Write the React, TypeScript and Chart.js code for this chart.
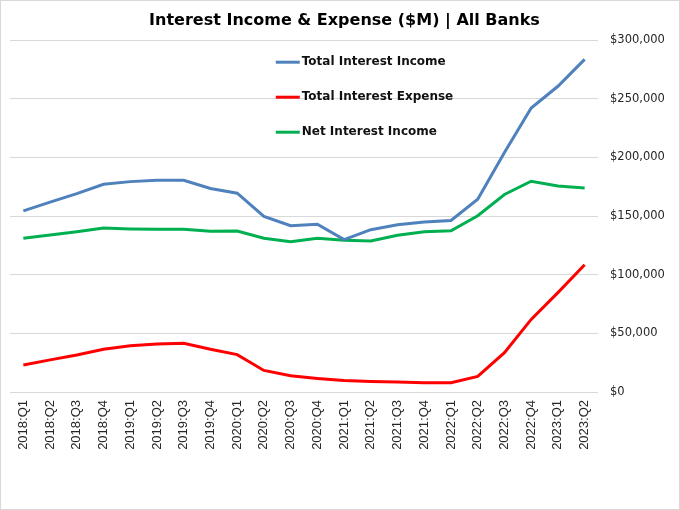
import React, { useEffect, useRef } from "react";
import { Chart, registerables } from "chart.js";

Chart.register(...registerables);

const categories = [
  "2018:Q1", "2018:Q2", "2018:Q3", "2018:Q4",
  "2019:Q1", "2019:Q2", "2019:Q3", "2019:Q4",
  "2020:Q1", "2020:Q2", "2020:Q3", "2020:Q4",
  "2021:Q1", "2021:Q2", "2021:Q3", "2021:Q4",
  "2022:Q1", "2022:Q2", "2022:Q3", "2022:Q4",
  "2023:Q1", "2023:Q2",
];

const totalInterestIncome = [
  154500, 161900, 169200, 177100,
  179400, 180500, 180500, 173500,
  169500, 149700, 141800, 143000,
  129900, 138400, 142600, 144900,
  146300, 164400, 204200, 242100,
  260700, 283600,
];

const totalInterestExpense = [
  23100, 27400, 31600, 36400,
  39500, 40900, 41500, 36400,
  31900, 18400, 13800, 11600,
  9900, 9000, 8500, 7900,
  7900, 13300, 33600, 61900,
  84700, 108500,
];

const netInterestIncome = [
  131100, 133900, 136700, 139800,
  139000, 138700, 138700, 137000,
  137300, 131100, 128200, 131100,
  129400, 128800, 133600, 136700,
  137500, 150300, 168400, 179700,
  175700, 174000,
];

const seriesLabels = ["Total Interest Income", "Total Interest Expense", "Net Interest Income"];
const seriesColors = ["#4f81bd", "#ff0000", "#00b050"];

const FONT = "'DejaVu Sans', Verdana, sans-serif";
const XFONT = "'Liberation Sans', Arial, sans-serif";

const insideLegend = {
  id: "insideLegend",
  afterDraw(chart: any) {
    const { ctx, chartArea } = chart;
    const w = chartArea.right - chartArea.left;
    const x0 = chartArea.left + w * 0.452;
    const y0 = chartArea.top + 22;
    const gap = 35;
    ctx.save();
    chart.data.datasets.forEach((ds: any, i: number) => {
      const y = y0 + i * gap;
      ctx.strokeStyle = ds.borderColor;
      ctx.lineWidth = 3;
      ctx.beginPath();
      ctx.moveTo(x0, y);
      ctx.lineTo(x0 + 24, y);
      ctx.stroke();
      ctx.fillStyle = "#111111";
      ctx.font = `bold 12px ${FONT}`;
      ctx.textAlign = "left";
      ctx.textBaseline = "middle";
      ctx.fillText(ds.label, x0 + 26, y);
    });
    ctx.restore();
  },
};

export default function App() {
  const canvasRef = useRef<HTMLCanvasElement | null>(null);

  useEffect(() => {
    if (!canvasRef.current) return;
    const datasetsValues = [totalInterestIncome, totalInterestExpense, netInterestIncome];
    const chart = new Chart(canvasRef.current, {
      type: "line",
      data: {
        labels: categories,
        datasets: datasetsValues.map((vals, i) => ({
          label: seriesLabels[i],
          data: vals,
          borderColor: seriesColors[i],
          backgroundColor: seriesColors[i],
          borderWidth: 3,
          pointRadius: 0,
          tension: 0,
          fill: false,
        })),
      },
      options: {
        responsive: false,
        animation: false,
        layout: { padding: { top: 3, left: 9, right: 0, bottom: 0 } },
        plugins: {
          legend: { display: false },
          tooltip: { enabled: false },
          title: {
            display: true,
            text: "Interest Income & Expense ($M) | All Banks",
            color: "#000000",
            font: { family: FONT, size: 16, weight: "bold" },
            padding: { top: 7, bottom: 10 },
          },
        },
        scales: {
          x: {
            type: "category",
            offset: true,
            grid: { display: false, drawTicks: false },
            border: { display: false },
            ticks: {
              autoSkip: false,
              maxRotation: 90,
              minRotation: 90,
              padding: 8,
              color: "#262626",
              font: { family: XFONT, size: 13 },
            },
            afterFit: (scale: any) => {
              scale.height = 117;
            },
          },
          y: {
            position: "right",
            min: 0,
            max: 300000,
            grid: { color: "#d9d9d9", lineWidth: 1, drawTicks: false },
            border: { display: false },
            ticks: {
              stepSize: 50000,
              padding: 12,
              color: "#262626",
              font: { family: FONT, size: 11.5 },
              callback: (v: any) => "$" + Number(v).toLocaleString("en-US"),
            },
            afterFit: (scale: any) => {
              scale.width = 81;
            },
          },
        },
      },
      plugins: [insideLegend],
    });
    return () => chart.destroy();
  }, []);

  return (
    <div
      style={{
        position: "absolute",
        left: 0,
        top: 0,
        width: 680,
        height: 510,
        boxSizing: "border-box",
        border: "1px solid #d9d9d9",
        background: "#ffffff",
      }}
    >
      <canvas ref={canvasRef} width={678} height={508} style={{ display: "block" }} />
    </div>
  );
}
